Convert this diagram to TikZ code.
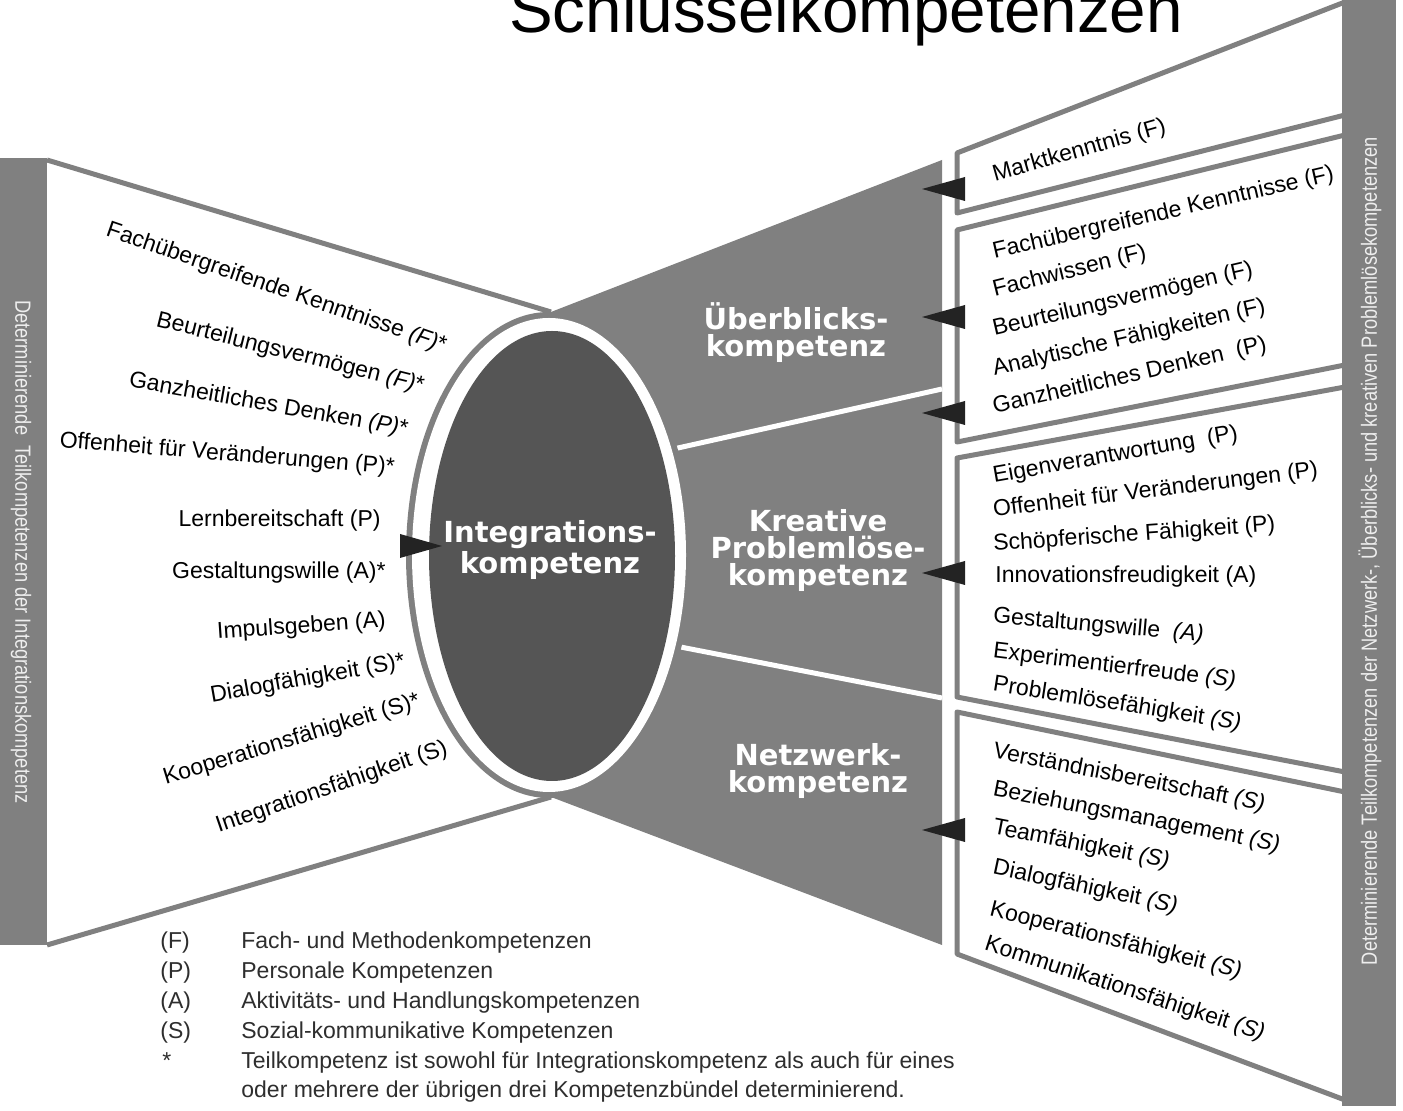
\documentclass[tikz,border=0pt]{standalone}
\usepackage{graphicx}
\usepackage{fontspec}
\setmainfont{Liberation Sans}
\newfontfamily\labfont{DejaVu Sans}
\definecolor{mgray}{HTML}{808080}
\definecolor{dgray}{HTML}{555555}
\definecolor{tricol}{HTML}{232323}
\definecolor{legc}{HTML}{2E2E2E}
\definecolor{barc}{HTML}{EEEEEE}
\tikzset{
  itm/.style={font=\fontsize{11.5}{13}\selectfont, inner sep=0pt, text=black},
  cenlab/.style={font=\labfont\bfseries\fontsize{14.5}{13.5}\selectfont, text=white, align=center, inner sep=0pt},
  bartxt/.style={font=\fontsize{11}{13}\selectfont, text=barc, inner sep=0pt},
  legtxt/.style={font=\fontsize{11.5}{13}\selectfont, text=legc, anchor=base west, inner sep=0pt},
  boxshape/.style={draw=mgray, line width=2.5pt, fill=white, line join=round},
  ptr/.style={fill=tricol},
  edgeln/.style={draw=mgray, line width=2.5pt},
  divln/.style={draw=white, line width=2.5pt},
}
\begin{document}
\begin{tikzpicture}[x=0.5pt, y=-0.5pt]
\useasboundingbox (0,0) rectangle (1403,1111);
\clip (0,0) rectangle (1403,1111);
\fill[white] (0,0) rectangle (1403,1111);

% title (cut off at the top)
\node[anchor=base, inner sep=0pt, font=\fontsize{32.75}{36}\selectfont] (title) at (846,33) {Schlüsselkompetenzen};

% right grey fan
\coordinate (etop) at (551,312);
\coordinate (ebot) at (551,797);
\fill[mgray] (etop) -- (942,160) -- (942,945) -- (ebot) -- cycle;
\draw[divln] (660,452) -- (942,389);
\draw[divln] (660,643) -- (942,698);

% left trapezoid edges
\draw[edgeln] (47,160) -- (etop);
\draw[edgeln] (47,945) -- (ebot);

% central ellipse
\fill[mgray] (549,555) ellipse [x radius=71.5pt, y radius=121.5pt];
\fill[white] (549,555) ellipse [x radius=68.5pt, y radius=118.5pt];
\fill[dgray] (552,556) ellipse [x radius=61.5pt, y radius=112.5pt];

% right boxes
\draw[boxshape] (957,153) -- (1345,2) -- (1345,115) -- (957,213) -- cycle;
\draw[boxshape] (957,230) -- (1345,135) -- (1345,365) -- (957,442) -- cycle;
\draw[boxshape] (957,458) -- (1345,387) -- (1345,772) -- (957,697) -- cycle;
\draw[boxshape] (957,712) -- (1345,792) -- (1345,1100) -- (957,954) -- cycle;

% bars
\fill[mgray] (0,158) rectangle (47,945);
\fill[mgray] (1342,0) rectangle (1396,1106);

% pointers
\fill[ptr] (400,534) -- (400,558) -- (442,546) -- cycle;
\fill[ptr] (965,177) -- (965,201) -- (922,189) -- cycle;
\fill[ptr] (965,305) -- (965,329) -- (922,317) -- cycle;
\fill[ptr] (965,401) -- (965,425) -- (922,413) -- cycle;
\fill[ptr] (965,561) -- (965,585) -- (922,573) -- cycle;
\fill[ptr] (965,818) -- (965,842) -- (922,830) -- cycle;

% bar texts
\node[bartxt, rotate=-90] (lbar) at (21,552) {\scalebox{0.83}[1]{Determinierende~~Teilkompetenzen der Integrationskompetenz}};
\node[bartxt, rotate=90] (rbar) at (1370,551) {\scalebox{0.83}[1]{Determinierende Teilkompetenzen der Netzwerk-, Überblicks- und kreativen Problemlösekompetenzen}};

% centre labels
\node[cenlab] (integ) at (550,550) {Integrations-\\kompetenz};
\node[cenlab] (ueber) at (796,333) {Überblicks-\\kompetenz};
\node[cenlab] (kreat) at (818,551) {Kreative\\Problemlöse-\\kompetenz};
\node[cenlab] (netz) at (818,771) {Netzwerk-\\kompetenz};

% left items
\node[itm, anchor=east, rotate=-19] (l1) at (446,347) {Fachübergreifende Kenntnisse \textit{(F)}*};
\node[itm, anchor=east, rotate=-14] (l2) at (424,387) {Beurteilungsvermögen \textit{(F)}*};
\node[itm, anchor=east, rotate=-10] (l3) at (408,430) {Ganzheitliches Denken \textit{(P)}*};
\node[itm, anchor=east, rotate=-4.5] (l4) at (395,468) {Offenheit für Veränderungen (P)*};
\node[itm, anchor=east] (l5) at (381,521) {Lernbereitschaft (P)};
\node[itm, anchor=east] (l6) at (386,573) {Gestaltungswille (A)*};
\node[itm, anchor=east, rotate=4] (l7) at (386,621) {Impulsgeben (A)};
\node[itm, anchor=east, rotate=10] (l8) at (405,662) {Dialogfähigkeit (S)*};
\node[itm, anchor=east, rotate=17] (l9) at (420,701) {Kooperationsfähigkeit (S)*};
\node[itm, anchor=east, rotate=19] (l10) at (447,748) {Integrationsfähigkeit (S)};

% right items
\node[itm, anchor=west, rotate=16] (r1) at (993,176) {Marktkenntnis (F)};
\node[itm, anchor=west, rotate=13] (r2) at (993,253) {Fachübergreifende Kenntnisse (F)};
\node[itm, anchor=west, rotate=14] (r3) at (993,291) {Fachwissen (F)};
\node[itm, anchor=west, rotate=13] (r4) at (993,330) {Beurteilungsvermögen (F)};
\node[itm, anchor=west, rotate=13] (r5) at (993,370) {Analytische Fähigkeiten (F)};
\node[itm, anchor=west, rotate=13] (r6) at (993,408) {Ganzheitliches Denken~~(P)};
\node[itm, anchor=west, rotate=10] (r7) at (993,477) {Eigenverantwortung~~(P)};
\node[itm, anchor=west, rotate=7] (r8) at (993,511) {Offenheit für Veränderungen (P)};
\node[itm, anchor=west, rotate=4] (r9) at (993,545) {Schöpferische Fähigkeit (P)};
\node[itm, anchor=west] (r10) at (995,577) {Innovationsfreudigkeit (A)};
\node[itm, anchor=west, rotate=-5] (r11) at (993,617) {Gestaltungswille~~\textit{(A)}};
\node[itm, anchor=west, rotate=-7] (r12) at (993,652) {Experimentierfreude \textit{(S)}};
\node[itm, anchor=west, rotate=-9] (r13) at (993,685) {Problemlösefähigkeit \textit{(S)}};
\node[itm, anchor=west, rotate=-11] (r14) at (993,752) {Verständnisbereitschaft \textit{(S)}};
\node[itm, anchor=west, rotate=-11] (r15) at (993,790) {Beziehungsmanagement \textit{(S)}};
\node[itm, anchor=west, rotate=-11] (r16) at (993,828) {Teamfähigkeit \textit{(S)}};
\node[itm, anchor=west, rotate=-12] (r17) at (993,868) {Dialogfähigkeit \textit{(S)}};
\node[itm, anchor=west, rotate=-14] (r18) at (990,910) {Kooperationsfähigkeit \textit{(S)}};
\node[itm, anchor=west, rotate=-18] (r19) at (985,944) {Kommunikationsfähigkeit \textit{(S)}};

% legend
\node[legtxt] (kF) at (160,948) {(F)};
\node[legtxt] (dF) at (241,948) {Fach- und Methodenkompetenzen};
\node[legtxt] (kP) at (160,978) {(P)};
\node[legtxt] (dP) at (241,978) {Personale Kompetenzen};
\node[legtxt] (kA) at (160,1008) {(A)};
\node[legtxt] (dA) at (241,1008) {Aktivitäts- und Handlungskompetenzen};
\node[legtxt] (kS) at (160,1038) {(S)};
\node[legtxt] (dS) at (241,1038) {Sozial-kommunikative Kompetenzen};
\node[legtxt] (kstar) at (162,1068) {*};
\node[legtxt] (dst1) at (241,1068) {Teilkompetenz ist sowohl für Integrationskompetenz als auch für eines};
\node[legtxt] (dst2) at (241,1097) {oder mehrere der übrigen drei Kompetenzbündel determinierend.};
\end{tikzpicture}
\end{document}
